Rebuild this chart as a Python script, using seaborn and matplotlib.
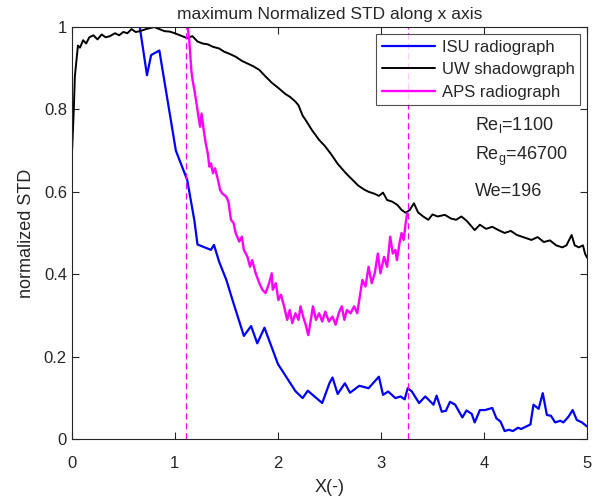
import numpy as np
import pandas as pd
import matplotlib
matplotlib.use("Agg")
import matplotlib.pyplot as plt
import seaborn as sns

# UW shadowgraph (black)
uw_x = [0.0, 0.02, 0.03, 0.05, 0.06, 0.08, 0.11, 0.14, 0.17, 0.21, 0.25, 0.29, 0.33, 0.37,
        0.42, 0.46, 0.50, 0.54, 0.58, 0.62, 0.66, 0.72, 0.80, 0.85, 0.90, 0.95, 1.00, 1.05,
        1.12, 1.17, 1.22, 1.27, 1.32, 1.37, 1.43, 1.48, 1.53, 1.59, 1.65, 1.70, 1.76, 1.82,
        1.88, 1.94, 2.01, 2.07, 2.12, 2.17, 2.20, 2.24, 2.27, 2.33, 2.40, 2.46, 2.52, 2.58,
        2.66, 2.72, 2.78, 2.84, 2.88, 2.94, 2.98, 3.02, 3.06, 3.11, 3.16, 3.20, 3.24, 3.28,
        3.32, 3.36, 3.41, 3.46, 3.50, 3.55, 3.62, 3.68, 3.73, 3.78, 3.83, 3.91, 3.96, 4.02,
        4.08, 4.14, 4.20, 4.26, 4.32, 4.38, 4.46, 4.52, 4.58, 4.64, 4.70, 4.76, 4.80, 4.85,
        4.88, 4.92, 4.96, 4.98, 5.00]
uw_y = [0.68, 0.80, 0.88, 0.93, 0.955, 0.95, 0.968, 0.96, 0.975, 0.98, 0.97, 0.982, 0.975, 0.978,
        0.985, 0.98, 0.988, 0.985, 0.995, 0.988, 0.99, 0.995, 1.0, 0.995, 0.99, 0.989, 0.985, 0.98,
        0.973, 0.978, 0.965, 0.96, 0.958, 0.952, 0.948, 0.94, 0.935, 0.928, 0.918, 0.912, 0.905, 0.896,
        0.88, 0.865, 0.851, 0.838, 0.83, 0.819, 0.81, 0.785, 0.774, 0.75, 0.726, 0.71, 0.69, 0.668,
        0.645, 0.63, 0.615, 0.605, 0.60, 0.595, 0.59, 0.598, 0.58, 0.576, 0.568, 0.556, 0.549, 0.556,
        0.572, 0.55, 0.54, 0.532, 0.545, 0.54, 0.544, 0.535, 0.532, 0.54, 0.53, 0.507, 0.52, 0.51,
        0.515, 0.507, 0.50, 0.505, 0.495, 0.49, 0.483, 0.49, 0.478, 0.482, 0.47, 0.465, 0.47, 0.495,
        0.47, 0.465, 0.47, 0.45, 0.44]

# ISU radiograph (blue)
isu_x = [0.66, 0.73, 0.77, 0.85, 1.01, 1.12, 1.19, 1.22, 1.35, 1.38, 1.43, 1.50, 1.56, 1.67,
         1.74, 1.80, 1.87, 2.00, 2.17, 2.24, 2.29, 2.43, 2.50, 2.53, 2.58, 2.65, 2.70, 2.79,
         2.88, 2.98, 3.02, 3.07, 3.14, 3.19, 3.23, 3.26, 3.30, 3.37, 3.43, 3.51, 3.54, 3.59,
         3.63, 3.67, 3.72, 3.79, 3.83, 3.88, 3.91, 3.96, 4.01, 4.08, 4.12, 4.16, 4.20, 4.24,
         4.28, 4.33, 4.36, 4.45, 4.48, 4.53, 4.57, 4.61, 4.65, 4.69, 4.74, 4.77, 4.82, 4.86,
         4.90, 4.95, 5.00]
isu_y = [1.0, 0.883, 0.932, 0.943, 0.70, 0.629, 0.53, 0.472, 0.459, 0.471, 0.43, 0.386, 0.337, 0.25,
         0.274, 0.232, 0.27, 0.182, 0.116, 0.099, 0.117, 0.087, 0.135, 0.149, 0.109, 0.135, 0.112, 0.129,
         0.123, 0.151, 0.107, 0.115, 0.099, 0.103, 0.096, 0.123, 0.115, 0.087, 0.103, 0.083, 0.105, 0.066,
         0.068, 0.09, 0.083, 0.052, 0.069, 0.061, 0.04, 0.07, 0.07, 0.075, 0.05, 0.042, 0.019, 0.022,
         0.019, 0.027, 0.024, 0.035, 0.083, 0.073, 0.111, 0.058, 0.056, 0.04, 0.044, 0.04, 0.054, 0.07,
         0.046, 0.04, 0.03]

# APS radiograph (magenta)
aps_x = [1.125, 1.14, 1.16, 1.17, 1.19, 1.21, 1.23, 1.245, 1.26, 1.28, 1.30, 1.32, 1.335, 1.35,
         1.37, 1.39, 1.415, 1.44, 1.46, 1.50, 1.52, 1.545, 1.57, 1.59, 1.625, 1.65, 1.67, 1.705,
         1.73, 1.75, 1.785, 1.82, 1.85, 1.88, 1.915, 1.94, 1.95, 1.98, 2.005, 2.03, 2.06, 2.09,
         2.115, 2.14, 2.17, 2.20, 2.22, 2.245, 2.27, 2.295, 2.32, 2.34, 2.37, 2.40, 2.43, 2.46,
         2.495, 2.53, 2.56, 2.59, 2.62, 2.645, 2.67, 2.705, 2.74, 2.77, 2.80, 2.82, 2.85, 2.88,
         2.91, 2.94, 2.97, 2.995, 3.03, 3.06, 3.09, 3.115, 3.14, 3.155, 3.18, 3.20, 3.22, 3.24,
         3.255]
aps_y = [1.0, 0.968, 0.896, 0.875, 0.847, 0.815, 0.782, 0.758, 0.79, 0.75, 0.718, 0.693, 0.661, 0.669,
         0.645, 0.657, 0.633, 0.604, 0.596, 0.588, 0.576, 0.532, 0.524, 0.50, 0.479, 0.491, 0.459, 0.442,
         0.418, 0.434, 0.402, 0.378, 0.362, 0.354, 0.378, 0.402, 0.362, 0.378, 0.337, 0.35, 0.322, 0.289,
         0.313, 0.281, 0.305, 0.289, 0.322, 0.297, 0.277, 0.252, 0.289, 0.322, 0.289, 0.305, 0.285, 0.309,
         0.285, 0.297, 0.277, 0.305, 0.322, 0.289, 0.313, 0.305, 0.322, 0.305, 0.354, 0.386, 0.37, 0.418,
         0.378, 0.402, 0.45, 0.402, 0.442, 0.418, 0.491, 0.45, 0.459, 0.434, 0.475, 0.50, 0.483, 0.524,
         0.548]

region_x = [1.11, 3.265]

sns.set_style("ticks")
plt.rcParams['font.family'] = ['Liberation Sans', 'DejaVu Sans']

fig = plt.figure(figsize=(5.93, 5.01), dpi=100)
ax = fig.add_axes([0.121, 0.124, 0.869, 0.822])

sns.lineplot(x=isu_x, y=isu_y, ax=ax, color=(0, 0, 1), lw=1.6, sort=False, label='ISU radiograph')
sns.lineplot(x=uw_x, y=uw_y, ax=ax, color='black', lw=1.4, sort=False, label='UW shadowgraph')
sns.lineplot(x=aps_x, y=aps_y, ax=ax, color=(1, 0, 1), lw=1.7, sort=False, label='APS radiograph')
for xv in region_x:
    ax.axvline(xv, color=(1, 0, 1), lw=0.9, ls=(0, (5, 3)))

ax.set_xlim(0, 5)
ax.set_ylim(0, 1)
ax.set_xticks([0, 1, 2, 3, 4, 5])
ax.set_yticks([0, 0.2, 0.4, 0.6, 0.8, 1])
ax.set_yticklabels(['0', '0.2', '0.4', '0.6', '0.8', '1'])
ax.tick_params(direction='in', top=True, right=True, labelsize=12, length=5, width=0.8, colors='#262626')
ax.tick_params(axis='x', pad=12)
for s in ax.spines.values():
    s.set_visible(True)
    s.set_linewidth(0.8)
    s.set_color('#262626')

ax.set_title('maximum Normalized STD along x axis', fontsize=12.5, pad=6)
ax.set_xlabel('X(-)', fontsize=13, labelpad=6)
ax.set_ylabel('normalized STD', fontsize=13, labelpad=6)

leg = ax.legend(loc='upper right', fontsize=12, frameon=True, fancybox=False, handlelength=3.2,
                borderaxespad=0.4, labelspacing=0.45, handletextpad=0.4, borderpad=0.35)
leg.get_frame().set_edgecolor('#262626')
leg.get_frame().set_linewidth(0.8)

ax.text(3.91, 0.762, r'Re$_\mathregular{l}$=1100', fontsize=13, va='center')
ax.text(3.91, 0.685, r'Re$_\mathregular{g}$=46700', fontsize=13, va='center')
ax.text(3.91, 0.60, 'We=196', fontsize=13, va='center')

fig.savefig('out.png', dpi=100)
